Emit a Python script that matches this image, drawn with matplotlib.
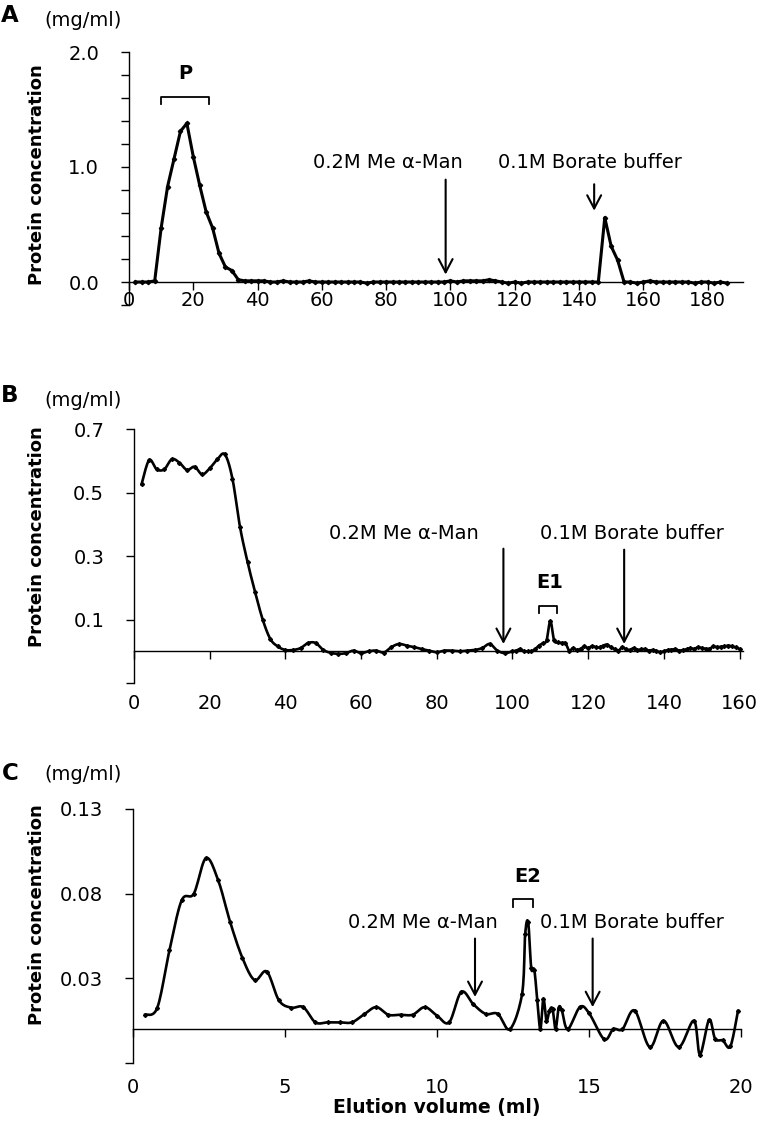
import numpy as np
import matplotlib
matplotlib.use("Agg")
import matplotlib.pyplot as plt

# Panel A - affinity column, fractions every 2 ml
a_x = list(range(2, 188, 2))
a_y = [0.0, 0.0, 0.0, 0.01, 0.47, 0.83, 1.07, 1.31, 1.38, 1.09,
       0.84, 0.61, 0.47, 0.25, 0.13, 0.10, 0.02, 0.01, 0.01, 0.01,
       0.01, 0.0, 0.0, 0.01, 0.0, 0.0, 0.0, 0.01, 0.0, 0.0,
       0.0, 0.0, 0.0, 0.0, 0.0, 0.0, -0.01, 0.0, 0.0, 0.0,
       0.0, 0.0, 0.0, 0.0, 0.0, 0.0, 0.0, 0.0, 0.0, 0.01,
       0.0, 0.01, 0.01, 0.01, 0.01, 0.02, 0.01, 0.0, -0.01, 0.0,
       -0.01, 0.0, 0.0, 0.0, 0.0, 0.0, 0.0, 0.0, 0.0, 0.0,
       0.0, 0.0, 0.0, 0.56, 0.31, 0.19, 0.0, 0.0, -0.01, 0.0,
       0.01, 0.0, 0.0, 0.0, 0.0, 0.0, 0.0, -0.01, 0.0, 0.0,
       -0.01, 0.0, -0.01]

# Panel B
b_x = list(range(2, 101, 2)) + list(range(101, 161))
b_y = [0.526, 0.602, 0.573, 0.573, 0.605, 0.594, 0.571, 0.581, 0.557, 0.576,
       0.604, 0.620, 0.544, 0.392, 0.281, 0.186, 0.100, 0.039, 0.015, 0.004,
       0.004, 0.010, 0.026, 0.026, 0.004, -0.005, -0.008, -0.006, 0.002, -0.006,
       0.0, 0.002, -0.004, 0.013, 0.023, 0.018, 0.013, 0.007, 0.002, -0.003,
       0.002, 0.002, 0.0, 0.002, 0.004, 0.010, 0.023, 0.002, -0.006, 0.0,
       # 101 - 160
       0.002, 0.007, 0.0, 0.0, 0.0, 0.007, 0.018, 0.025, 0.034, 0.095,
       0.034, 0.028, 0.026, 0.025, 0.002, 0.010, 0.004, 0.008, 0.015, 0.010,
       0.016, 0.013, 0.012, 0.018, 0.021, 0.012, 0.007, 0.002, 0.013, 0.006,
       0.004, 0.010, 0.004, 0.006, 0.007, 0.002, 0.004, 0.001, -0.003, 0.0,
       0.004, 0.005, 0.007, 0.002, 0.004, 0.006, 0.010, 0.007, 0.013, 0.010,
       0.008, 0.007, 0.015, 0.013, 0.014, 0.015, 0.018, 0.015, 0.012, 0.007]

# Panel C
c_x = [0.4, 0.8, 1.2, 1.6, 2.0, 2.4, 2.8, 3.2, 3.6, 4.0,
       4.4, 4.8, 5.2, 5.6, 6.0, 6.4, 6.8, 7.2, 7.6, 8.0,
       8.4, 8.8, 9.2, 9.6, 10.0, 10.4, 10.8, 11.2, 11.6, 12.0,
       12.4, 12.8, 12.9, 13.0, 13.1, 13.2, 13.3, 13.4, 13.5, 13.6,
       13.7, 13.8, 13.9, 14.0, 14.1, 14.3, 14.7, 15.0, 15.5, 15.8,
       16.1, 16.5, 17.0, 17.45, 17.95, 18.45, 18.65, 18.95, 19.15, 19.4,
       19.65, 19.9]
c_y = [0.0085, 0.0127, 0.0466, 0.076, 0.080, 0.101, 0.088, 0.063, 0.042, 0.029,
       0.034, 0.017, 0.0127, 0.013, 0.004, 0.004, 0.004, 0.004, 0.0087, 0.013,
       0.0085, 0.0085, 0.0085, 0.013, 0.008, 0.004, 0.022, 0.0146, 0.009, 0.009,
       0.0, 0.021, 0.056, 0.063, 0.036, 0.035, 0.017, 0.0, 0.018, 0.005,
       0.011, 0.012, 0.0, 0.0125, 0.0115, 0.0, 0.013, 0.0095, -0.006, 0.0,
       0.0, 0.011, -0.0106, 0.005, -0.0106, 0.005, -0.015, 0.0055, -0.0057, -0.0067,
       -0.0102, 0.0107]

W, H = 760, 1134


def smooth(x, y, n=12):
    # Catmull-Rom curve through the points, like Excel's smoothed line
    p = np.column_stack([x, y]).astype(float)
    p = np.vstack([p[0], p, p[-1]])
    t = np.linspace(0, 1, n, endpoint=False)[:, None]
    segs = []
    for i in range(1, len(p) - 2):
        p0, p1, p2, p3 = p[i - 1], p[i], p[i + 1], p[i + 2]
        segs.append(0.5 * (2 * p1 + (-p0 + p2) * t
                           + (2 * p0 - 5 * p1 + 4 * p2 - p3) * t ** 2
                           + (-p0 + 3 * p1 - 3 * p2 + p3) * t ** 3))
    segs.append(p[-2][None, :])
    s = np.vstack(segs)
    return s[:, 0], s[:, 1]


def style_axes(ax, xlim, ylim, xticks, yticks, ylabels, xpad):
    ax.set_xlim(*xlim)
    ax.set_ylim(*ylim)
    for s in ['top', 'right']:
        ax.spines[s].set_visible(False)
    ax.spines['bottom'].set_position(('data', 0))
    ax.spines['bottom'].set_linewidth(1.0)
    ax.spines['left'].set_linewidth(1.0)
    ax.set_xticks(xticks)
    ax.set_xticklabels([str(v) for v in xticks])
    ax.set_yticks(yticks)
    ax.set_yticklabels(ylabels)
    ax.tick_params(axis='both', direction='out', length=5.5, width=1.0, labelsize=14)
    ax.tick_params(axis='y', pad=16)
    ax.tick_params(axis='x', pad=xpad)
    ax.patch.set_visible(False)


def arrow(ax, x, y0, y1):
    ax.annotate('', xy=(x, y1), xytext=(x, y0),
                arrowprops=dict(arrowstyle='->,head_length=0.95,head_width=0.5',
                                lw=1.5, color='black', shrinkA=0, shrinkB=0,
                                mutation_scale=10))


def bracket(ax, x0, x1, ytop, ylow):
    ax.plot([x0, x0, x1, x1], [ylow, ytop, ytop, ylow], color='black', lw=1.3)


fig = plt.figure(figsize=(W / 100, H / 100), dpi=100)

# ---- Panel A ----
axA = fig.add_axes([129 / W, 1 - 305 / H, 614 / W, 253 / H])
axA.plot(a_x, a_y, color='black', lw=2.2, marker='D', ms=2.2)
a_ticks = [-0.2, 0.0, 0.2, 0.4, 0.6, 0.8, 1.0, 1.2, 1.4, 1.6, 1.8, 2.0]
a_lab = ['', '0.0', '', '', '', '', '1.0', '', '', '', '', '2.0']
style_axes(axA, (0, 191), (-0.2, 2.0), list(range(0, 181, 20)), a_ticks, a_lab, 1)
bracket(axA, 10, 25, 1.61, 1.545)
axA.text(17.4, 1.81, 'P', fontsize=14, fontweight='bold', ha='center', va='center')
axA.text(80.6, 1.035, u'0.2M Me \u03b1-Man', fontsize=14, ha='center', va='center')
arrow(axA, 98.5, 0.89, 0.065)
axA.text(143.4, 1.035, '0.1M Borate buffer', fontsize=14, ha='center', va='center')
arrow(axA, 144.7, 0.85, 0.62)

# ---- Panel B ----
axB = fig.add_axes([134 / W, 1 - 683 / H, 609 / W, 254 / H])
bx, by = smooth(b_x, b_y)
axB.plot(bx, by, color='black', lw=1.9)
axB.plot(b_x, b_y, ls='none', color='black', marker='D', ms=2.0)
style_axes(axB, (0, 160.9), (-0.1, 0.7), list(range(0, 161, 20)),
           [-0.1, 0.1, 0.3, 0.5, 0.7], ['', '0.1', '0.3', '0.5', '0.7'], 25)
axB.text(71.3, 0.372, u'0.2M Me \u03b1-Man', fontsize=14, ha='center', va='center')
arrow(axB, 97.6, 0.323, 0.023)
axB.text(131.5, 0.372, '0.1M Borate buffer', fontsize=14, ha='center', va='center')
arrow(axB, 129.5, 0.32, 0.023)
bracket(axB, 107.1, 111.8, 0.144, 0.121)
axB.text(109.9, 0.218, 'E1', fontsize=14, fontweight='bold', ha='center', va='center')

# ---- Panel C ----
axC = fig.add_axes([133 / W, 1 - 1063 / H, 608 / W, 254 / H])
cx, cy = smooth(c_x, c_y)
axC.plot(cx, cy, color='black', lw=1.9)
axC.plot(c_x, c_y, ls='none', color='black', marker='D', ms=2.0)
style_axes(axC, (0, 20), (-0.02, 0.13), [0, 5, 10, 15, 20],
           [-0.02, 0.03, 0.08, 0.13], ['', '0.03', '0.08', '0.13'], 30)
axC.text(9.54, 0.0627, u'0.2M Me \u03b1-Man', fontsize=14, ha='center', va='center')
arrow(axC, 11.25, 0.0535, 0.019)
axC.text(16.4, 0.0627, '0.1M Borate buffer', fontsize=14, ha='center', va='center')
arrow(axC, 15.12, 0.0535, 0.013)
bracket(axC, 12.49, 13.17, 0.0766, 0.072)
axC.text(12.97, 0.090, 'E2', fontsize=14, fontweight='bold', ha='center', va='center')

# ---- figure texts ----
for letter, yl, yu, yc in [('A', 15, 20, 175), ('B', 395, 400, 537), ('C', 773, 774, 915)]:
    fig.text(10 / W, 1 - yl / H, letter, fontsize=16.5, fontweight='bold', ha='center', va='center')
    fig.text(83 / W, 1 - yu / H, '(mg/ml)', fontsize=14, ha='center', va='center')
    fig.text(37 / W, 1 - yc / H, 'Protein concentration', fontsize=13, fontweight='bold',
             rotation=90, ha='center', va='center')

fig.text(437 / W, 1 - 1108 / H, 'Elution volume (ml)', fontsize=13.5, fontweight='bold',
         ha='center', va='center')

fig.savefig('out.png', dpi=100)
